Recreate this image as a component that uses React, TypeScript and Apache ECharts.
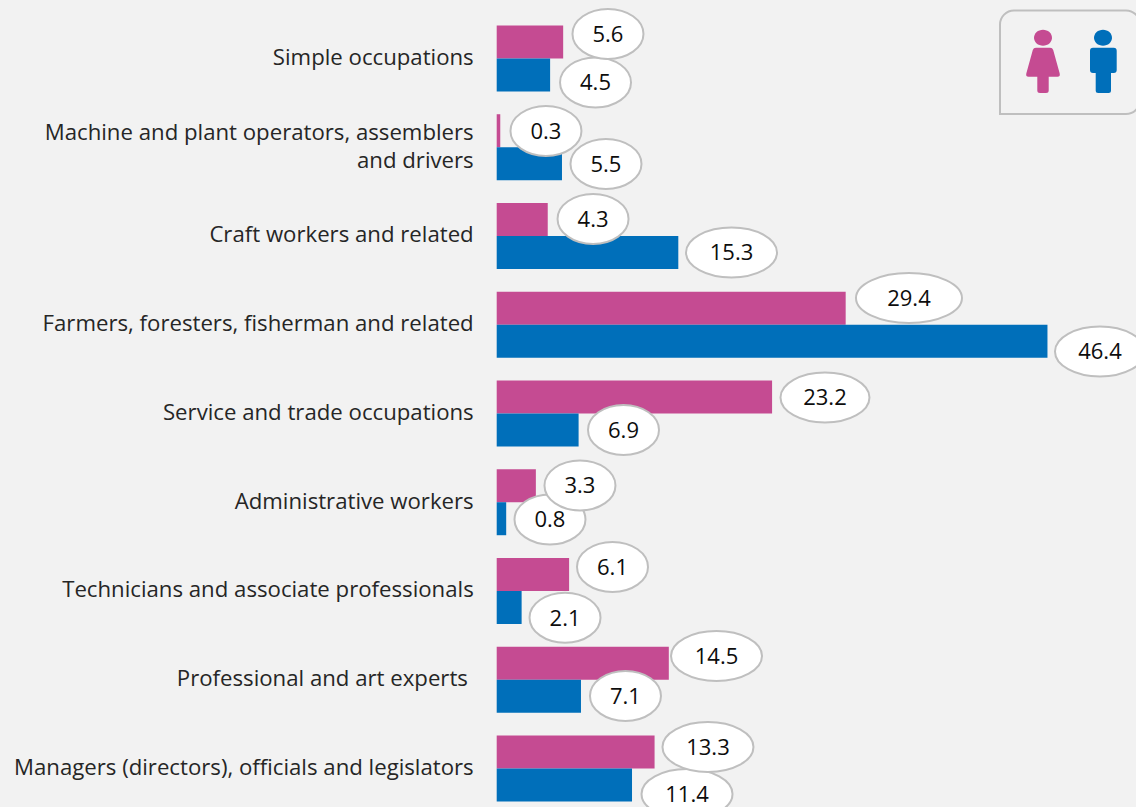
import React, { useEffect, useRef } from "react";
import * as echarts from "echarts";

const categories = [
  "Simple occupations",
  "Machine and plant operators, assemblers\nand drivers",
  "Craft workers and related",
  "Farmers, foresters, fisherman and related",
  "Service and trade occupations",
  "Administrative workers",
  "Technicians and associate professionals",
  "Professional and art experts ",
  "Managers (directors), officials and legislators",
];
const femaleValues = [5.6, 0.3, 4.3, 29.4, 23.2, 3.3, 6.1, 14.5, 13.3];
const maleValues = [4.5, 5.5, 15.3, 46.4, 6.9, 0.8, 2.1, 7.1, 11.4];

// callout placement relative to the end of each bar / the centre of its band
const femaleCalloutDx = [44.8, 45.7, 45.3, 63.3, 52.9, 44.1, 43.4, 47.7, 53.4];
const femaleCalloutDy = [-24.5, -16.25, -17, -26.75, -16, -16.75, -24, -23.75, -21.5];
const maleCalloutDx = [45.4, 44, 53.2, 52.5, 44.9, 43.8, 43.4, 44.5, 55];
const maleCalloutDy = [24, 16.75, 16.5, 26.75, 16.5, 17.25, 26.7, 16.25, 25.5];
const femaleCalloutW = [71, 71, 71, 106, 89, 71, 71, 91, 91];
const maleCalloutW = [71, 71, 91, 90, 71, 71, 71, 71, 91];

const PINK = "#c54b92";
const BLUE = "#006fba";
const GRID = "#bfbfbf";
const BG = "#f2f2f2";
const FONT = "'Open Sans', sans-serif";

const femaleBody =
  "M1036 47.7 L1050 47.7 Q1052.5 47.7 1053.2 50 L1059.7 73.5 Q1060.4 76.7 1057.5 76.7 L1048.7 76.7 L1048.7 90.5 Q1048.7 93 1046 93 L1040 93 Q1037.3 93 1037.3 90.5 L1037.3 76.7 L1028.5 76.7 Q1025.6 76.7 1026.3 73.5 L1032.8 50 Q1033.5 47.7 1036 47.7 Z";
const maleBody =
  "M1093 47.7 L1113.7 47.7 Q1116.7 47.7 1116.7 50.7 L1116.7 70 Q1116.7 73 1113.7 73 L1111 73 L1111 90.5 Q1111 93 1108.5 93 L1098.2 93 Q1095.7 93 1095.7 90.5 L1095.7 73 L1093 73 Q1090 73 1090 70 L1090 50.7 Q1090 47.7 1093 47.7 Z";
echarts.graphic.registerShape("femaleBody", echarts.graphic.extendPath(femaleBody, {}));
echarts.graphic.registerShape("maleBody", echarts.graphic.extendPath(maleBody, {}));

function calloutSeries(name: string, values: number[], dx: number[], dy: number[], w: number[]) {
  return {
    name,
    type: "custom",
    z: 5,
    silent: true,
    clip: false,
    data: values.map((v, i) => [v, categories[i], i]),
    encode: { x: 0, y: 1 },
    renderItem: (_p: any, api: any) => {
      const i = api.value(2);
      const value = values[i];
      const [x, y] = api.coord([value, i]);
      const cx = x + dx[i];
      const cy = y + dy[i];
      return {
        type: "group",
        children: [
          {
            type: "ellipse",
            shape: { cx, cy, rx: w[i] / 2, ry: 25 },
            style: { fill: "#ffffff", stroke: GRID, lineWidth: 2 },
          },
          {
            type: "text",
            style: {
              x: cx,
              y: cy - 1,
              text: value.toFixed(1),
              align: "center",
              verticalAlign: "middle",
              fill: "#0d0d0d",
              font: `22px ${FONT}`,
            },
          },
        ],
      };
    },
  };
}

export default function App() {
  const ref = useRef<HTMLDivElement>(null);
  useEffect(() => {
    document.body.style.margin = "0";
    document.body.style.background = BG;
    document.body.style.overflow = "hidden";
    const chart = echarts.init(ref.current!, undefined, { renderer: "svg" });
    chart.setOption({
      animation: false,
      backgroundColor: BG,
      grid: [
        { left: 496.7, top: 14.1, width: 593.5, height: 798.75, containLabel: false, outerBoundsMode: "none" },
        // the occupation labels sit 2px above the centre of their bars
        { left: 496.7, top: 12.1, width: 593.5, height: 798.75, containLabel: false, outerBoundsMode: "none" },
      ],
      xAxis: [
        { type: "value", gridIndex: 0, min: 0, max: 50, show: false },
        { type: "value", gridIndex: 1, min: 0, max: 50, show: false },
      ],
      yAxis: [
        {
          type: "category",
          gridIndex: 0,
          inverse: true,
          data: categories,
          show: false,
        },
        {
          type: "category",
          gridIndex: 1,
          inverse: true,
          data: categories,
          axisLine: { show: false },
          axisTick: { show: false },
          splitLine: { show: false },
          axisLabel: {
            margin: 23,
            color: "#262626",
            fontFamily: FONT,
            fontSize: 22.2,
            lineHeight: 28,
            align: "right",
            interval: 0,
          },
        },
      ],
      series: [
        {
          name: "Female",
          type: "bar",
          data: femaleValues,
          itemStyle: { color: PINK },
          barWidth: 33,
          barGap: 0,
        },
        {
          name: "Male",
          type: "bar",
          data: maleValues,
          itemStyle: { color: BLUE },
          barWidth: 33,
          barGap: 0,
        },
        calloutSeries("Male values", maleValues, maleCalloutDx, maleCalloutDy, maleCalloutW),
        calloutSeries("Female values", femaleValues, femaleCalloutDx, femaleCalloutDy, femaleCalloutW),
      ],
      graphic: [
        {
          type: "rect",
          z: 10,
          shape: { x: 1000, y: 10.5, width: 140, height: 103.5, r: [14, 14, 14, 0] },
          style: { fill: "none", stroke: GRID, lineWidth: 2 },
        },
        { type: "ellipse", z: 11, shape: { cx: 1043, cy: 37.7, rx: 9, ry: 8 }, style: { fill: PINK } },
        { type: "femaleBody", z: 11, x: 0, y: 0, style: { fill: PINK } },
        { type: "ellipse", z: 11, shape: { cx: 1103, cy: 37.7, rx: 9, ry: 8 }, style: { fill: BLUE } },
        { type: "maleBody", z: 11, x: 0, y: 0, style: { fill: BLUE } },
      ],
    });
    return () => chart.dispose();
  }, []);
  return <div ref={ref} style={{ width: 1136, height: 807, background: BG }} />;
}
